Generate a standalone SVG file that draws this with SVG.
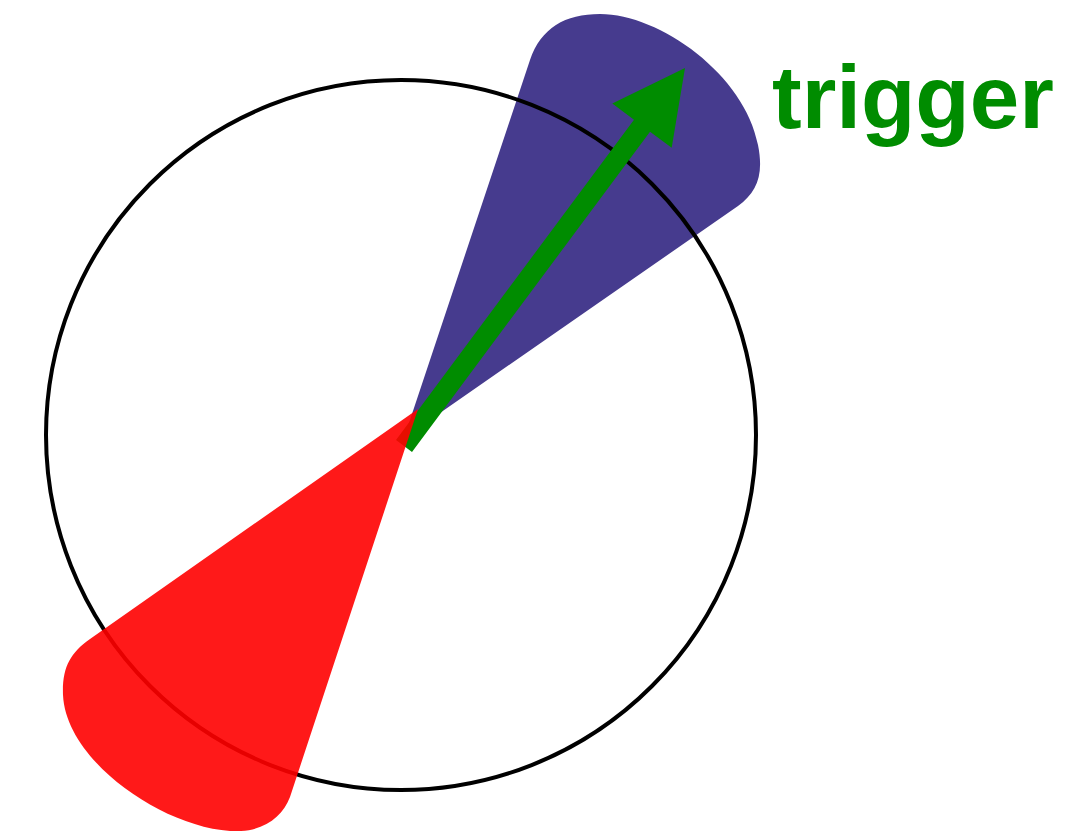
<svg xmlns="http://www.w3.org/2000/svg" width="1081" height="831" viewBox="0 0 1081 831">
<style>
.blue{fill:#463b8e;stroke:none}
.red{fill:#ff0000;fill-opacity:0.9;stroke:none}
.ring{fill:none;stroke:#000;stroke-width:4}
.arrow{fill:#008c00;stroke:none}
.label{font-family:"Liberation Sans",Arial,sans-serif;font-weight:bold;font-size:89px;fill:#008c00}
</style>
<rect width="1081" height="831" fill="#fff"/>
<g id="blue-cone">
<path class="blue" d="M404,438 L530,60 C541,28 565,14 600,14 C660,14 745,75 758,145 C764,175 757,192 738,206 Z"/>
</g>
<g id="circle">
<circle class="ring" cx="401" cy="435" r="355"/>
</g>
<g id="connectors">
<polygon class="arrow" points="396,440 634,119.7 612.3,103.6 685,68 671.7,147.8 650,131.7 412,452"/>
</g>
<g id="red-cone">
<path class="red" d="M418,409 L90,639 C70,653 62,668 63,695 C66,760 160,826 230,831 C262,833 282,818 290,797 Z"/>
</g>
<g id="label-trigger">
<text class="label" x="772" y="128">trigger</text>
</g>
</svg>
